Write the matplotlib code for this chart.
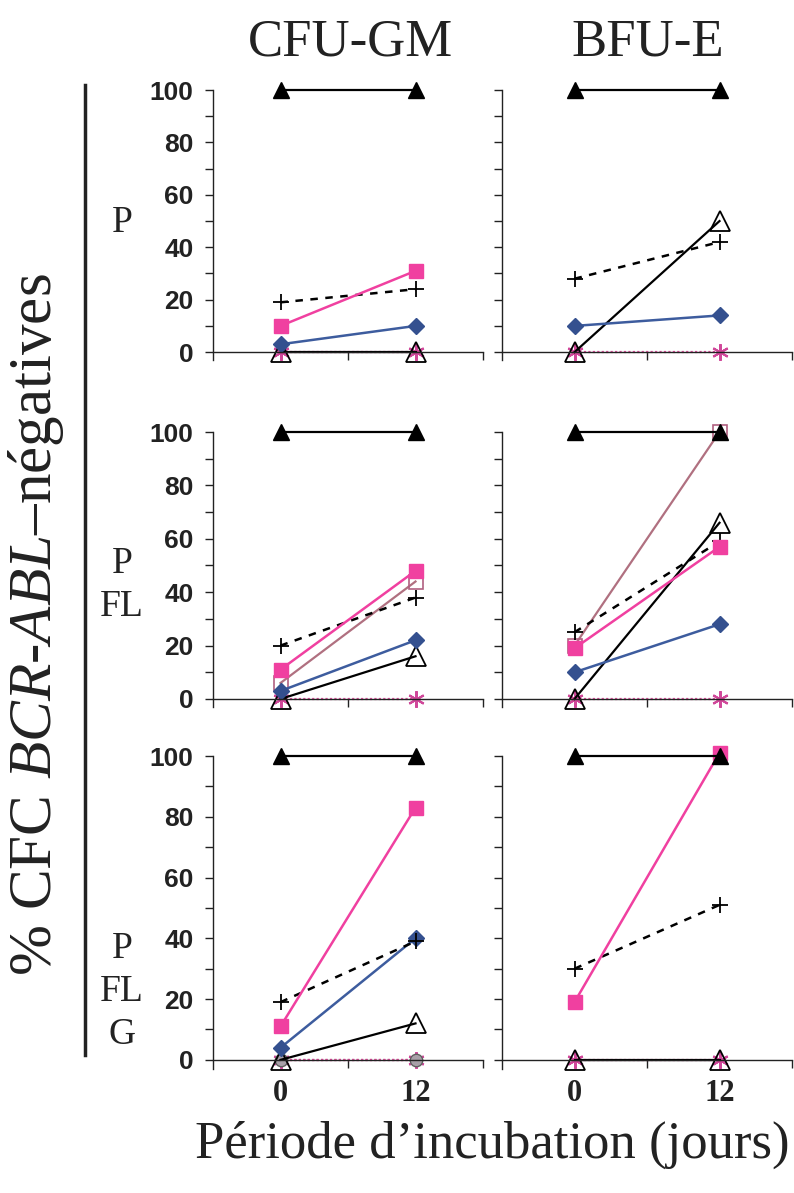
import numpy as np
import matplotlib.pyplot as plt
from matplotlib.lines import Line2D

plt.rcParams['font.family'] = ['Liberation Serif', 'DejaVu Serif']
plt.rcParams['mathtext.fontset'] = 'custom'
plt.rcParams['mathtext.rm'] = 'Liberation Serif'
plt.rcParams['mathtext.it'] = 'Liberation Serif:italic'

days = [0, 12]
colonies = ["CFU-GM", "BFU-E"]
conditions = ["P", "P\nFL", "P\nFL\nG"]

# one pair (jour 0, jour 12) per panel, in the order
# P/CFU-GM, P/BFU-E, P+FL/CFU-GM, P+FL/BFU-E, P+FL+G/CFU-GM, P+FL+G/BFU-E
tri_plein = [[100, 100], [100, 100], [100, 100], [100, 100], [100, 100], [100, 100]]
carre_rose = [[10, 31], None, [11, 48], [19, 57], [11, 83], [19, 101]]
croix = [[19, 24], [28, 42], [20, 38], [25, 59], [19, 39], [30, 51]]
losange = [[3, 10], [10, 14], [3, 22], [10, 28], [4, 40], None]
tri_vide = [[0, 0], [0, 50], [0, 16], [0, 66], [0, 12], [0, 0]]
etoile = [[0, 0], [0, 0], [0, 0], [0, 0], [0, 0], [0, 0]]
carre_vide = [None, None, [6, 44], [20, 100], None, None]
rond = [None, None, None, None, [0, 0], None]

# drawing order (first = bottom)
series = [
    (etoile, dict(color='#e0509f', ls=(0, (1, 1)), lw=1.6, marker=(6, 2, 0), ms=12, mew=1.5, mec='#d0489a')),
    (rond, dict(color='#e0509f', ls=(0, (1, 1)), lw=1.6, marker='o', ms=9, mfc='#a8a0a8', mec='#606060')),
    (carre_vide, dict(color='#b07080', ls='-', lw=1.6, marker='s', ms=10, mfc='none', mec='#b06080', mew=1.2)),
    (tri_vide, dict(color='black', ls='-', lw=1.6, marker='^', ms=14, mfc='none', mec='black', mew=1.3)),
    (losange, dict(color='#3d5c9e', ls='-', lw=1.8, marker='D', ms=8, mfc='#34508f', mec='#34508f')),
    (croix, dict(color='black', ls=(0, (3, 3)), lw=1.8, marker='+', ms=11, mew=1.3)),
    (carre_rose, dict(color='#f040a0', ls='-', lw=1.8, marker='s', ms=9.5, mfc='#f040a0', mec='#f040a0')),
    (tri_plein, dict(color='black', ls='-', lw=1.6, marker='^', ms=11, mfc='black', mec='black')),
]

W, H = 794, 1193
col_x = [(213, 483), (502, 792)]
row_y = [(90, 360), (432, 707), (756, 1069)]

fig = plt.figure(figsize=(W / 100, H / 100), dpi=100)

for r in range(3):
    for c in range(2):
        k = r * 2 + c
        x0, x1 = col_x[c]
        y0, y1 = row_y[r]
        ax = fig.add_axes([x0 / W, 1 - y1 / H, (x1 - x0) / W, (y1 - y0) / H])
        ax.set_xlim(-6, 18)
        ax.set_ylim(-3, 100)
        for s in ['top', 'right']:
            ax.spines[s].set_visible(False)
        ax.spines['bottom'].set_position(('data', 0))
        for s in ['left', 'bottom']:
            ax.spines[s].set_linewidth(1.0)
            ax.spines[s].set_color('#222222')

        for vals, st in series:
            v = vals[k]
            if v is None:
                continue
            ax.plot(days, v, clip_on=False, **st)

        ax.set_yticks(range(0, 101, 20))
        ax.set_yticks(range(10, 100, 20), minor=True)
        ax.tick_params(axis='y', which='both', direction='out', length=6, width=1, color='#222222')
        if c == 0:
            ax.set_yticklabels([str(t) for t in range(0, 101, 20)],
                               fontfamily='Liberation Sans', fontweight='bold', fontsize=19, color='#222222')
            ax.tick_params(axis='y', pad=8)
        else:
            ax.set_yticklabels([])

        ax.set_xticks(days)
        ax.set_xticks([6, 18], minor=True)
        ax.tick_params(axis='x', which='major', length=0, pad=14)
        ax.tick_params(axis='x', which='minor', direction='out', length=6, width=1, color='#222222')
        if r == 2:
            ax.set_xticklabels([str(d) for d in days], fontweight='bold', fontsize=22, color='#222222')
        else:
            ax.set_xticklabels([])

# column titles
fig.text(350 / W, 1 - 42 / H, colonies[0], ha='center', va='center', fontsize=38, color='#222222')
fig.text(648 / W, 1 - 42 / H, colonies[1], ha='center', va='center', fontsize=38, color='#222222')

# row labels
row_lab_y = [223, 585, 992]
for lab, yy in zip(conditions, row_lab_y):
    fig.text(122 / W, 1 - yy / H, lab, ha='center', va='center', fontsize=27,
             linespacing=1.32, multialignment='center', color='#222222')

# bracket line
fig.add_artist(Line2D([85 / W, 85 / W], [1 - 85 / H, 1 - 1055 / H],
                      transform=fig.transFigure, color='#222222', lw=2.5))

fig.text(36 / W, 1 - 625 / H, "% CFC $BCR$-$ABL$\u2013négatives", rotation=90,
         ha='center', va='center', fontsize=44, color='#222222')
fig.text(492 / W, 1 - 1145 / H, "Période d\u2019incubation (jours)", ha='center', va='center',
         fontsize=38, color='#222222')

fig.savefig('out.png', dpi=100)
